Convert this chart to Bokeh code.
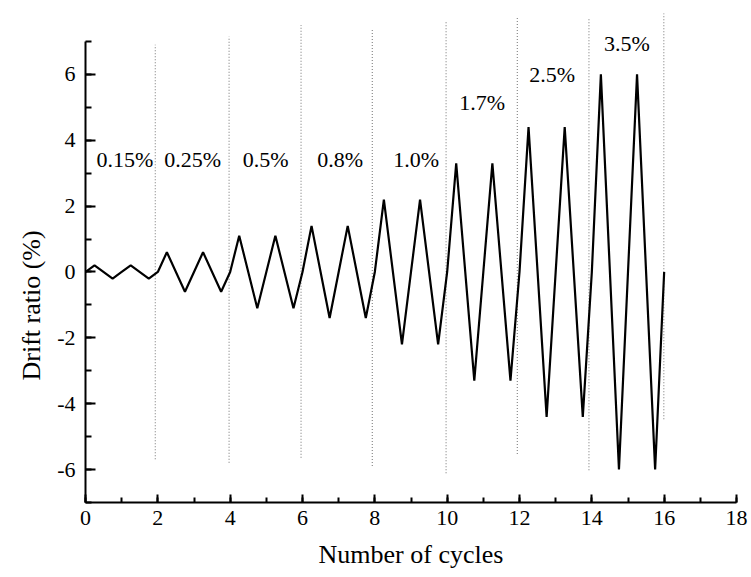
from bokeh.plotting import figure
from bokeh.models import (Range1d, SingleIntervalTicker, Title, ColumnDataSource,
                          CustomJSTickFormatter)
from bokeh.core.properties import value
from bokeh.embed import file_html
from bokeh.resources import INLINE

# Loading protocol: drift amplitude of each loading stage (two cycles per stage)
stage_amplitude = [0.2, 0.6, 1.1, 1.4, 2.2, 3.3, 4.4, 6.0]
cycles_per_stage = 2

# Stage annotations
stage_labels = ["0.15%", "0.25%", "0.5%", "0.8%", "1.0%", "1.7%", "2.5%", "3.5%"]
stage_label_x = [1.09, 2.96, 4.98, 7.04, 9.14, 10.97, 12.9, 14.97]
stage_label_y = [3.4, 3.4, 3.4, 3.4, 3.4, 5.15, 6.0, 6.93]

# Dotted separators between stages
sep_x = [1.93, 3.97, 5.96, 7.93, 9.97, 11.94, 13.92, 15.99]
sep_top = [6.9, 7.15, 7.5, 7.35, 7.62, 7.72, 7.67, 7.85]
sep_bottom = [-5.69, -5.79, -5.64, -5.89, -6.11, -5.53, -6.02, -4.47]

# Build the triangular loading history: 0 -> +A -> -A -> 0 for every cycle
cyc_x = [0.0]
cyc_y = [0.0]
n = 0
for amp in stage_amplitude:
    for _ in range(cycles_per_stage):
        cyc_x += [n + 0.25, n + 0.75, n + 1.0]
        cyc_y += [amp, -amp, 0.0]
        n += 1

FONT = "Liberation Serif"

p = figure(width=751, height=577, output_backend="svg", toolbar_location=None,
           x_range=Range1d(0, 18), y_range=Range1d(-7, 8),
           min_border_left=85, min_border_right=15,
           min_border_top=8, min_border_bottom=75)
p.outline_line_color = None
p.xgrid.visible = False
p.ygrid.visible = False
p.background_fill_color = "white"
p.border_fill_color = "white"

p.segment(x0=sep_x, y0=sep_bottom, x1=sep_x, y1=sep_top,
          line_color="#8a8a8a", line_width=1.2, line_dash="1 2")

p.line(cyc_x, cyc_y, line_color="black", line_width=2.2)

src = ColumnDataSource(dict(x=stage_label_x, y=stage_label_y, t=stage_labels))
p.text(x="x", y="y", text="t", source=src, text_font=value(FONT),
       text_font_size="22px", text_align="center", text_baseline="middle",
       text_color="black")

plain_numbers = CustomJSTickFormatter(code="return tick.toString();")

for ax in (p.xaxis[0], p.yaxis[0]):
    ax.ticker = SingleIntervalTicker(interval=2, num_minor_ticks=2)
    ax.formatter = plain_numbers
    ax.axis_line_width = 2
    ax.axis_line_color = "black"
    ax.major_tick_line_width = 2
    ax.minor_tick_line_width = 2
    ax.major_tick_line_color = "black"
    ax.minor_tick_line_color = "black"
    ax.major_tick_out = 0
    ax.minor_tick_out = 0
    ax.major_label_text_font = FONT
    ax.major_label_text_font_size = "22px"
    ax.major_label_text_color = "black"
    ax.axis_label_text_font = FONT
    ax.axis_label_text_font_size = "26px"
    ax.axis_label_text_font_style = "normal"
    ax.axis_label_text_color = "black"

p.xaxis.major_tick_in = 8
p.xaxis.minor_tick_in = 5
p.yaxis.major_tick_in = 10
p.yaxis.minor_tick_in = 6
p.xaxis.bounds = (0, 18)
p.yaxis.bounds = (-7, 7)
p.xaxis.major_label_standoff = 8
p.yaxis.major_label_standoff = 10
p.xaxis.axis_label = "Number of cycles"
p.xaxis.axis_label_standoff = 12

# Vertical axis title, anchored from the bottom of the frame
p.add_layout(Title(text="Drift ratio (%)", align="left", offset=122, standoff=18,
                   text_font=FONT, text_font_size="26px",
                   text_font_style="normal", text_color="black"), "left")

open("out.html", "w").write(file_html(p, INLINE))
